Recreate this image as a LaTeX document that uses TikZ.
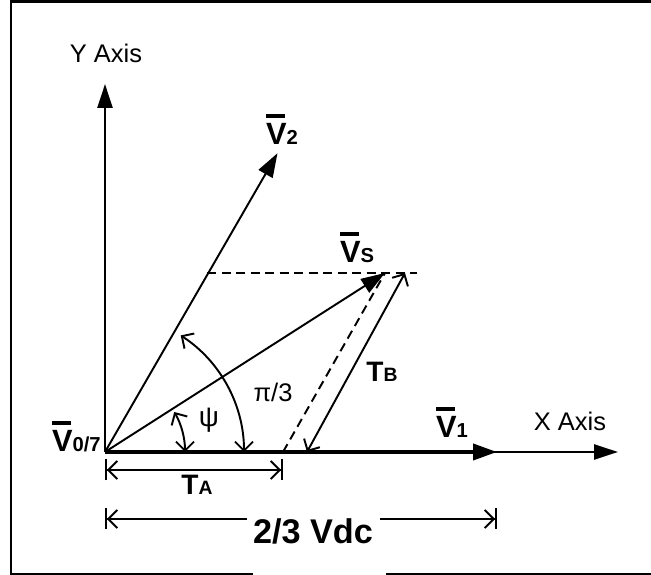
\documentclass[tikz,border=0pt]{standalone}
\usepackage{fontspec}
\setmainfont{Liberation Sans}
\usetikzlibrary{arrows.meta,positioning,calc}
\newcommand{\vbar}[1]{\rlap{\rule[0.88em]{0.62em}{0.13em}}V{\fontsize{11.5}{13}\selectfont #1}}
\newcommand{\tsub}[1]{T{\fontsize{11}{13}\selectfont #1}}

\begin{document}
\begin{tikzpicture}[
    vec/.style={-{Triangle[length=4.8mm,width=3.2mm]}, line width=1.1pt},
    axis/.style={-{Triangle[length=4.8mm,width=3mm]}, line width=1.5pt},
    guide/.style={dash pattern=on 1.8mm off 1.1mm, line width=1.1pt},
    twoway/.style={{Straight Barb[length=1.8mm,width=3.6mm]}-{Straight Barb[length=1.8mm,width=3.6mm]}, line width=1.1pt},
    dim/.style={{Bar[width=4.2mm]Straight Barb[length=1.8mm,width=3.6mm]}-{Straight Barb[length=1.8mm,width=3.6mm]Bar[width=4.2mm]}, line width=1.1pt},
    vlbl/.style={font=\fontsize{17.5}{19}\selectfont\bfseries, inner sep=0pt, anchor=base},
    tlbl/.style={font=\fontsize{16}{18}\selectfont\bfseries, inner sep=0pt},
    axlbl/.style={font=\fontsize{14.5}{16}\selectfont, inner sep=0pt},
]
\useasboundingbox (-2.1,-2.46) rectangle (10.92,9.04);
\draw[line width=1.6pt] (2.96,-2.44) -- (-1.88,-2.44) -- (-1.88,9.01) -- (10.92,9.01);
\draw[line width=1.6pt] (5.62,-2.44) -- (10.92,-2.44);
\coordinate (O) at (0,0);
\coordinate (Y) at (0,7.36);
\coordinate (X) at (10.26,0);
\coordinate (V1) at (7.84,0);
\coordinate (V2) at (60:6.9);
\coordinate (Vs) at (5.6,3.58);
\coordinate (H1) at (2.04,3.58);
\coordinate (H2) at (6.24,3.58);
\coordinate (TAe) at (3.56,0);
\coordinate (TB0) at (4.04,0);
\coordinate (TB1) at (6.0,3.58);
\coordinate (A1) at (2.78,0);
\coordinate (A2) at (1.6,0);
\coordinate (D0) at (0,-0.36);
\coordinate (D1) at (3.56,-0.36);
\coordinate (E0) at (0,-1.34);
\coordinate (E1) at (7.84,-1.34);
\draw[axis] (O) -- (Y);
\draw[axis, line width=1.4pt] (O) -- (X);
\draw[vec, line width=2.2pt] (O) -- (V1);
\draw[vec] (O) -- (V2); \draw[vec] (O) -- (Vs);
\draw[guide] (H1) -- (H2); \draw[guide] (TAe) -- (Vs);
\draw[twoway] (TB0) -- (TB1);
\draw[twoway] (A1) arc[start angle=0, end angle=57, radius=2.78];
\draw[twoway] (A2) arc[start angle=0, end angle=30, radius=1.6];
\draw[dim] (D0) -- (D1);
\draw[dim] (E0) -- (E1);
\node[font=\fontsize{19.5}{21}\selectfont\bfseries, fill=white, minimum width=2.66cm, inner ysep=3pt] (vdc) at (4.16,-1.58) {2/3 Vdc};
\node[vlbl] (v2l) at (3.54,6.14) {\vbar{2}};
\node[vlbl] (vsl) at (5.04,3.78) {\vbar{S}};
\node[vlbl] (v1l) at (6.94,0.28) {\vbar{1}};
\node[vlbl, anchor=base east] (v0l) at (-0.08,0) {\vbar{0/7}};
\node[tlbl] (tbl) at (5.54,1.6) {\tsub{B}};
\node[tlbl] (tal) at (1.84,-0.66) {\tsub{A}};
\node[axlbl] (pil) at (3.36,1.2) {π/3};
\node[axlbl, font=\fontsize{16}{18}\selectfont] (psil) at (2.08,0.64) {ψ};
\node[axlbl] (yl) at (0.02,7.98) {Y Axis};
\node[axlbl] (xl) at (9.3,0.62) {X Axis};
\end{tikzpicture}
\end{document}
